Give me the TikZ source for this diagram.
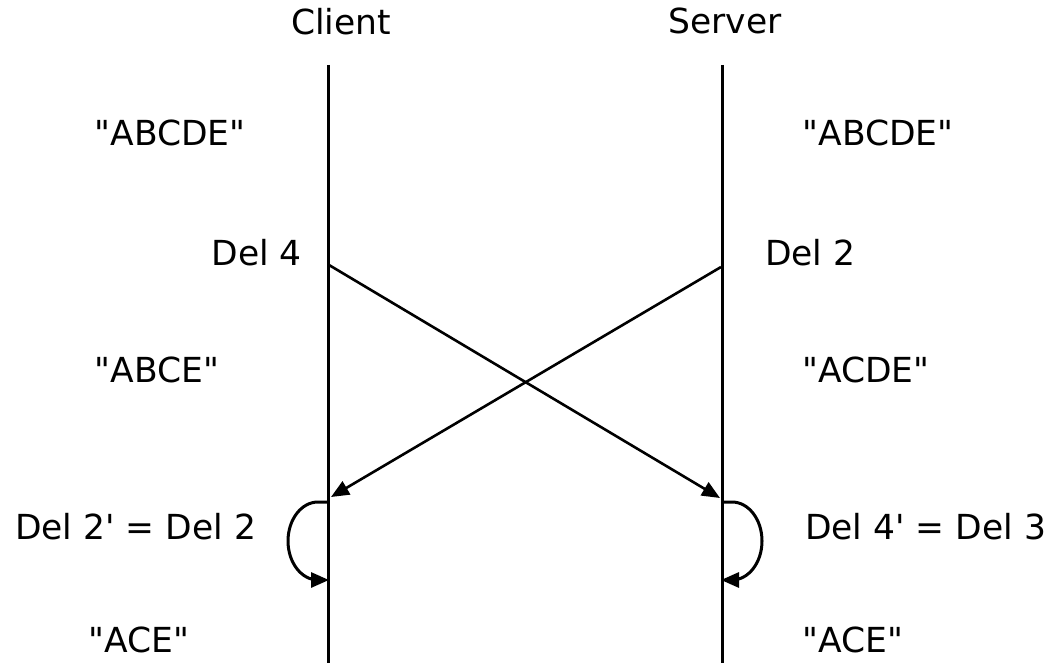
\documentclass[tikz,border=0pt]{standalone}
\usepackage{fontspec}
\setmainfont{DejaVu Sans}[Ligatures=TeXOff]
\usetikzlibrary{arrows.meta}
\begin{document}
\begin{tikzpicture}[x=1pt,y=-1pt,
  lbl/.style={inner sep=0pt,font=\fontsize{34.5}{40}\selectfont},
  life/.style={line width=3pt},
  msg/.style={line width=2.6pt,-{Triangle[length=18pt,width=15pt]}},
  loopc/.style={line width=3pt,-{Triangle[length=18pt,width=15pt]}}]
\useasboundingbox (0,0) rectangle (1052,663);
\node[lbl] (client) at (341,22) {Client};
\node[lbl] (server) at (725,21) {Server};
\coordinate (ctop) at (328,65);
\coordinate (cbot) at (328,663);
\coordinate (stop) at (722,65);
\coordinate (sbot) at (722,663);
\draw[life] (ctop) -- (cbot);
\draw[life] (stop) -- (sbot);
\node[lbl] (l1) at (170,133) {"ABCDE"};
\node[lbl] (r1) at (878,133) {"ABCDE"};
\node[lbl,anchor=east] (l2) at (302,253) {Del 4};
\node[lbl,anchor=west] (r2) at (765,253) {Del 2};
\node[lbl] (l3) at (157,370) {"ABCE"};
\node[lbl] (r3) at (866,370) {"ACDE"};
\node[lbl,anchor=west] (l4) at (15,527) {Del 2' = Del 2};
\node[lbl,anchor=west] (r4) at (805,527) {Del 4' = Del 3};
\node[lbl] (l5) at (139,640) {"ACE"};
\node[lbl] (r5) at (853,640) {"ACE"};
\coordinate (cs) at (329,265);
\coordinate (ss) at (721,267);
\coordinate (ce) at (331,497);
\coordinate (se) at (720,498);
\draw[msg] (cs) -- (se);
\draw[msg] (ss) -- (ce);
\coordinate (cl1) at (328,502);
\coordinate (cl2) at (329,580);
\coordinate (sl1) at (722,502);
\coordinate (sl2) at (721,580);
\draw[loopc] (cl1) -- ++(-10,0) arc[start angle=-90,end angle=-270,x radius=30,y radius=39] -- (cl2);
\draw[loopc] (sl1) -- ++(10,0) arc[start angle=-90,end angle=90,x radius=30,y radius=39] -- (sl2);
\end{tikzpicture}
\end{document}
